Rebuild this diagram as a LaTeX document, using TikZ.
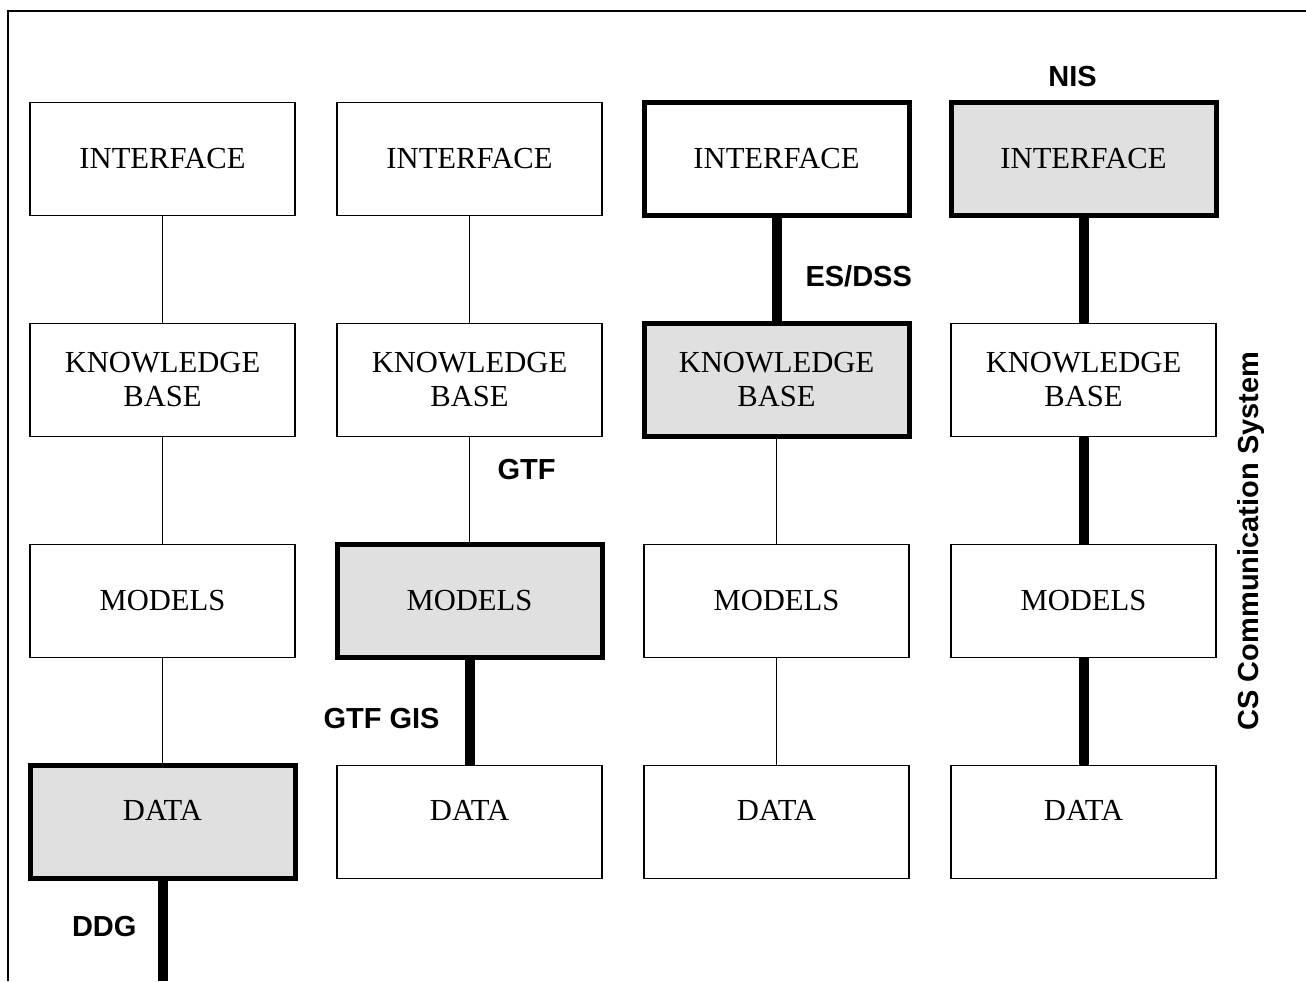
\documentclass[tikz,border=0pt]{standalone}
\usepackage{fontspec}
\setmainfont{Liberation Serif}
\newfontfamily\lblfont{Liberation Sans}
\usetikzlibrary{positioning}

\definecolor{shadegray}{gray}{0.88}

\begin{document}
\begin{tikzpicture}[
    x=0.5pt,
    y=-0.5pt,
    node distance=110.5pt and 153.5pt,
    on grid,
    box/.style={draw, line width=0.75pt, minimum width=132.5pt,
        minimum height=56.5pt, align=center,
        font=\fontsize{15.3}{17}\selectfont},
    heavy/.style={box, line width=2.5pt},
    lit/.style={heavy, fill=shadegray},
    datab/.style={text depth=12pt},
    link/.style={line width=0.65pt},
    trunk/.style={line width=5pt},
    lbl/.style={font=\lblfont\bfseries\fontsize{14.5}{17}\selectfont,
        inner sep=0pt},
]

    \useasboundingbox (0,0) rectangle (1306,981);

    % frame
    \coordinate (tl) at (8,11);
    \coordinate (tr) at (1306,11);
    \coordinate (bl) at (8,981);
    \draw[line width=0.75pt] (tr) -- (tl) -- (bl);

    \node[box]                 (I1) at (162.5,159) {INTERFACE};
    \node[box,   right=of I1]  (I2) {INTERFACE};
    \node[heavy, right=of I2]  (I3) {INTERFACE};
    \node[lit,   right=of I3]  (I4) {INTERFACE};

    \node[box,   below=of I1]  (K1) {KNOWLEDGE\\BASE};
    \node[box,   below=of I2]  (K2) {KNOWLEDGE\\BASE};
    \node[lit,   below=of I3]  (K3) {KNOWLEDGE\\BASE};
    \node[box,   below=of I4]  (K4) {KNOWLEDGE\\BASE};

    \node[box,   below=of K1]  (M1) {MODELS};
    \node[lit,   below=of K2]  (M2) {MODELS};
    \node[box,   below=of K3]  (M3) {MODELS};
    \node[box,   below=of K4]  (M4) {MODELS};

    \node[lit,   datab, below=of M1]  (D1) {DATA};
    \node[box,   datab, below=of M2]  (D2) {DATA};
    \node[box,   datab, below=of M3]  (D3) {DATA};
    \node[box,   datab, below=of M4]  (D4) {DATA};

    \coordinate (ddg) at (162.5,981);

    \node[lbl, above left=41pt and 5.5pt of I4] (nis) {NIS};
    \node[lbl, rotate=90] (cs) at (1251,541) {CS Communication System};

    \path
        (I1) edge [link]  (K1)
        (K1) edge [link]  (M1)
        (M1) edge [link]  (D1)
        (D1) edge [trunk] node [lbl, left=10.5pt, pos=0.45] {DDG} (ddg)

        (I2) edge [link]  (K2)
        (K2) edge [link]  node [lbl, right=13.75pt, pos=0.31] {GTF} (M2)
        (M2) edge [trunk] node [lbl, left=12.5pt, pos=0.56] {GTF GIS} (D2)

        (I3) edge [trunk] node [lbl, right=12pt, pos=0.57] {ES/DSS} (K3)
        (K3) edge [link]  (M3)
        (M3) edge [link]  (D3)

        (I4) edge [trunk] (K4)
        (K4) edge [trunk] (M4)
        (M4) edge [trunk] (D4)
    ;
\end{tikzpicture}
\end{document}
